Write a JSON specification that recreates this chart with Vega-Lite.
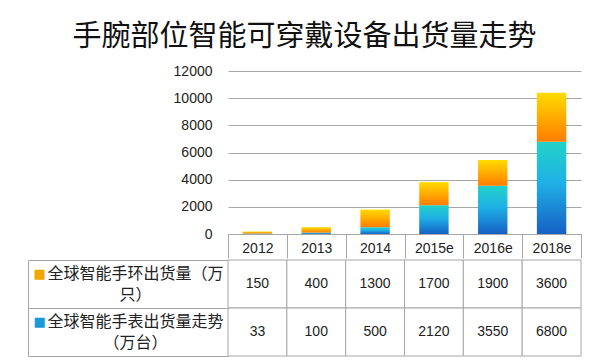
{
  "$schema": "https://vega.github.io/schema/vega-lite/v6.json",
  "padding": {"left": 27, "top": 23, "right": 10, "bottom": 5},
  "background": "white",
  "title": {"text": "手腕部位智能可穿戴设备出货量走势", "font": "Noto Sans CJK SC", "fontSize": 29, "fontWeight": "normal", "color": "#111111", "anchor": "middle", "offset": 12},
  "config": {"view": {"stroke": null}, "font": "Liberation Sans"},
  "data": {"values": [
    {"year": "2012", "series": "全球智能手环出货量（万只）", "value": 150},
    {"year": "2013", "series": "全球智能手环出货量（万只）", "value": 400},
    {"year": "2014", "series": "全球智能手环出货量（万只）", "value": 1300},
    {"year": "2015e", "series": "全球智能手环出货量（万只）", "value": 1700},
    {"year": "2016e", "series": "全球智能手环出货量（万只）", "value": 1900},
    {"year": "2018e", "series": "全球智能手环出货量（万只）", "value": 3600},
    {"year": "2012", "series": "全球智能手表出货量走势（万台）", "value": 33},
    {"year": "2013", "series": "全球智能手表出货量走势（万台）", "value": 100},
    {"year": "2014", "series": "全球智能手表出货量走势（万台）", "value": 500},
    {"year": "2015e", "series": "全球智能手表出货量走势（万台）", "value": 2120},
    {"year": "2016e", "series": "全球智能手表出货量走势（万台）", "value": 3550},
    {"year": "2018e", "series": "全球智能手表出货量走势（万台）", "value": 6800}
  ]},
  "spacing": 0,
  "vconcat": [
    {
      "width": 353,
      "height": 163,
      "transform": [{"stack": "value", "groupby": ["year"], "sort": [{"field": "series", "order": "descending"}], "as": ["y0", "y1"]}],
      "encoding": {
        "x": {"field": "year", "type": "nominal", "sort": null, "scale": {"paddingInner": 0, "paddingOuter": 0},
          "axis": {"title": null, "labelAngle": 0, "labelFontSize": 14, "labelColor": "#222222", "domainColor": "#a6a6a6", "tickColor": "#a6a6a6", "tickBand": "extent", "tickSize": 24, "labelPadding": -17, "labelBaseline": "top"}},
        "y": {"field": "y0", "type": "quantitative", "scale": {"domain": [0, 12000], "nice": false},
          "axis": {"title": null, "values": [0, 2000, 4000, 6000, 8000, 10000, 12000], "format": "d", "grid": true, "gridColor": "#a6a6a6", "domain": false, "ticks": false, "tickSize": 0, "labelFontSize": 14, "labelColor": "#222222", "labelPadding": 16}},
        "y2": {"field": "y1"}
      },
      "layer": [
        {
          "transform": [{"filter": "datum.series == '全球智能手表出货量走势（万台）'"}],
          "mark": {"type": "bar", "width": {"band": 0.5}, "color": {"gradient": "linear", "x1": 0, "y1": 0, "x2": 0, "y2": 1, "stops": [{"offset": 0, "color": "#22d2c8"}, {"offset": 0.45, "color": "#1fb0e6"}, {"offset": 1, "color": "#1560c4"}]}}
        },
        {
          "transform": [{"filter": "datum.series == '全球智能手环出货量（万只）'"}],
          "mark": {"type": "bar", "width": {"band": 0.5}, "color": {"gradient": "linear", "x1": 0, "y1": 0, "x2": 0, "y2": 1, "stops": [{"offset": 0, "color": "#ffdc00"}, {"offset": 1, "color": "#ff7c00"}]}}
        }
      ]
    },
    {
      "width": 353,
      "height": 96,
      "encoding": {
        "x": {"field": "year", "type": "nominal", "sort": null, "scale": {"paddingInner": 0, "paddingOuter": 0}, "axis": null}
      },
      "layer": [
        {
          "mark": {"type": "rect", "fill": "white", "stroke": "#a6a6a6", "strokeWidth": 1},
          "encoding": {
            "y": {"field": "series", "type": "nominal", "sort": ["全球智能手环出货量（万只）", "全球智能手表出货量走势（万台）"], "scale": {"paddingInner": 0, "paddingOuter": 0},
              "axis": {"title": null, "orient": "left", "offset": 200, "domainColor": "#a6a6a6", "tickColor": "#a6a6a6", "tickBand": "extent", "tickSize": -200, "labels": false}}
          }
        },
        {
          "mark": {"type": "text", "fontSize": 14, "font": "Liberation Sans", "color": "#222222"},
          "encoding": {
            "text": {"field": "value", "type": "quantitative"},
            "y": {"field": "series", "type": "nominal", "sort": ["全球智能手环出货量（万只）", "全球智能手表出货量走势（万台）"], "scale": {"paddingInner": 0, "paddingOuter": 0},
              "axis": {"title": null, "orient": "left", "offset": 200, "domain": false, "ticks": false, "tickSize": 0, "grid": false, "labelPadding": -107, "labelOffset": -10.5, "labelAlign": "center", "labelBaseline": "middle", "labelFont": "Noto Sans CJK SC", "labelFontSize": 16, "labelLineHeight": 21, "labelColor": "#222222", "labelLimit": 0,
                "labelExpr": "datum.value == '全球智能手环出货量（万只）' ? ['全球智能手环出货量（万', '只）'] : ['全球智能手表出货量走势', '（万台）']"}}
          }
        },
        {
          "mark": {"type": "rect", "opacity": 0},
          "encoding": {
            "y": {"field": "series", "type": "nominal", "sort": ["全球智能手环出货量（万只）", "全球智能手表出货量走势（万台）"], "scale": {"paddingInner": 0, "paddingOuter": 0},
              "axis": {"title": null, "orient": "left", "offset": 200, "domain": false, "ticks": false, "tickSize": 0, "grid": false, "labelExpr": "'■'", "labelAlign": "left", "labelBaseline": "middle", "labelPadding": -5, "labelOffset": -10, "labelFont": "DejaVu Sans", "labelFontSize": 13,
                "labelColor": {"condition": {"test": "datum.value == '全球智能手环出货量（万只）'", "value": "#f0a800"}, "value": "#1a9ad8"}}}
          }
        }
      ],
      "resolve": {"axis": {"y": "independent"}}
    }
  ]
}
